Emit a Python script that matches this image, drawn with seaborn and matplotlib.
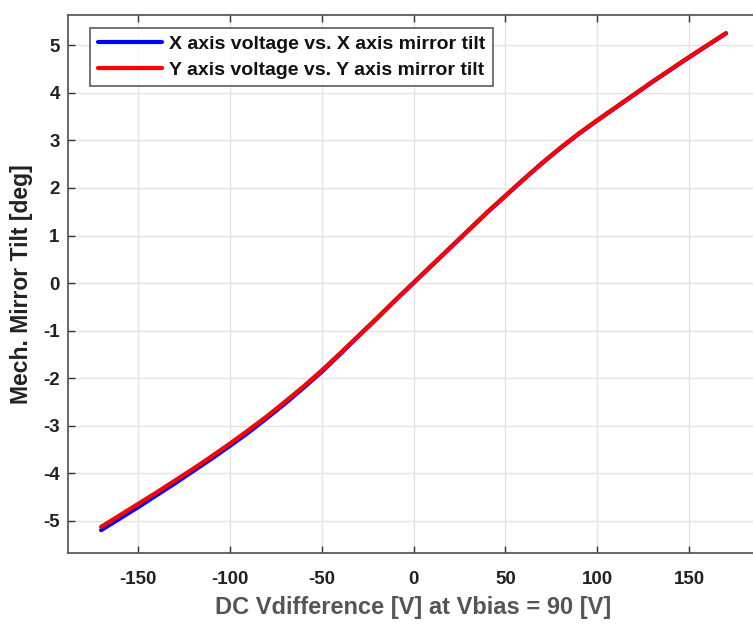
import numpy as np
import pandas as pd
import matplotlib
matplotlib.use("Agg")
import matplotlib.pyplot as plt
import seaborn as sns

# DC voltage difference [V]
volts = [-170, -160, -150, -140, -130, -120, -110, -100, -90, -80, -70, -60, -50, -40, -30, -20, -10,
         0, 10, 20, 30, 40, 50, 60, 70, 80, 90, 100, 110, 120, 130, 140, 150, 160, 170]

# mechanical mirror tilt [deg]
x_tilt = [-5.20, -4.96, -4.72, -4.47, -4.22, -3.96, -3.70, -3.43, -3.15, -2.85, -2.54, -2.21, -1.87,
          -1.50, -1.12, -0.75, -0.37, 0.00, 0.37, 0.74, 1.11, 1.48, 1.83, 2.18, 2.52, 2.84, 3.14,
          3.42, 3.69, 3.96, 4.23, 4.49, 4.75, 5.00, 5.25]
y_tilt = [-5.13, -4.89, -4.65, -4.41, -4.16, -3.91, -3.65, -3.38, -3.10, -2.81, -2.50, -2.18, -1.84,
          -1.48, -1.11, -0.74, -0.36, 0.01, 0.38, 0.75, 1.12, 1.49, 1.84, 2.19, 2.53, 2.85, 3.15,
          3.43, 3.70, 3.97, 4.24, 4.50, 4.76, 5.01, 5.26]

labels = ["X axis voltage vs. X axis mirror tilt", "Y axis voltage vs. Y axis mirror tilt"]

df = pd.DataFrame({
    "V": volts * 2,
    "tilt": x_tilt + y_tilt,
    "series": [labels[0]] * len(volts) + [labels[1]] * len(volts),
})

sns.set_theme(style="whitegrid")
plt.rcParams["font.family"] = ["Liberation Sans", "DejaVu Sans"]
plt.rcParams["axes.unicode_minus"] = False

fig = plt.figure(figsize=(7.53, 6.26), dpi=100)
ax = fig.add_axes([68 / 753, 73 / 626, 691 / 753, 538 / 626])

sns.lineplot(data=df, x="V", y="tilt", hue="series", palette=["#0000ff", "#ff0000"],
             linewidth=3, ax=ax, legend=True)

ax.set_xlim(-188, 188)
ax.set_ylim(-5.68, 5.64)
ax.set_xticks([-150, -100, -50, 0, 50, 100, 150])
ax.set_yticks(range(-5, 6))
ax.grid(True, color="#e3e3e3", linewidth=1)
ax.set_facecolor("white")
for s in ax.spines.values():
    s.set_color("#5a5a5a")
    s.set_linewidth(1.3)
ax.tick_params(direction="in", length=5, width=1, color="#333333", top=True, left=True,
               bottom=True, labelsize=13.5, labelcolor="#222222")
ax.tick_params(axis="x", pad=13)
ax.tick_params(axis="y", pad=6)
for t in ax.get_xticklabels() + ax.get_yticklabels():
    t.set_fontweight("bold")

ax.set_xlabel("DC Vdifference [V] at Vbias = 90 [V]", fontsize=17, fontweight="bold",
              color="#555555", labelpad=6)
ax.set_ylabel("Mech. Mirror Tilt [deg]", fontsize=16.5, fontweight="bold", color="#222222",
              labelpad=7)

leg = ax.legend(loc="upper left", bbox_to_anchor=(0.032, 0.976), borderaxespad=0, fontsize=14,
                frameon=True, fancybox=False, handlelength=3.3, borderpad=0.4, labelspacing=0.4,
                handletextpad=0.35)
leg.get_frame().set_edgecolor("#333333")
leg.get_frame().set_linewidth(1.2)
for t in leg.get_texts():
    t.set_fontweight("bold")
    t.set_color("#111111")

fig.savefig("out.png", dpi=100)
